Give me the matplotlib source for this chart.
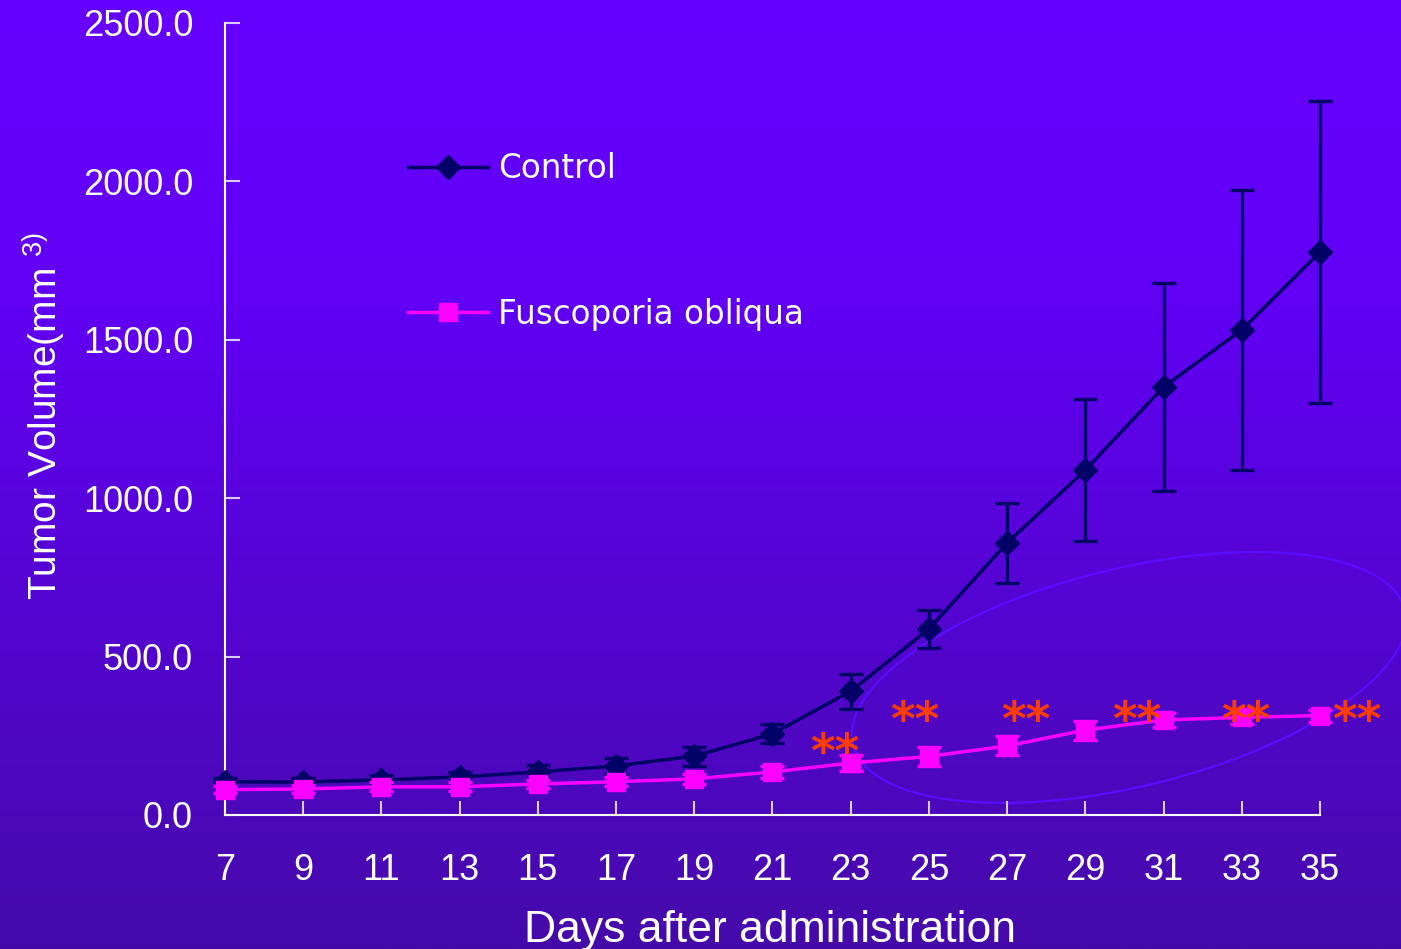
import numpy as np
import matplotlib
matplotlib.use("Agg")
import matplotlib.pyplot as plt
from matplotlib.patches import Ellipse
from matplotlib.lines import Line2D
from matplotlib.ticker import FixedLocator, FormatStrFormatter
from matplotlib import transforms

# ---------------- data ----------------
days = [7, 9, 11, 13, 15, 17, 19, 21, 23, 25, 27, 29, 31, 33, 35]
control = [105, 104, 111, 120, 136, 155, 186, 256, 391, 587, 859, 1089, 1351, 1531, 1777]
control_err = [12, 14, 16, 16, 22, 25, 30, 30, 55, 60, 126, 225, 328, 442, 478]
fusco = [80, 82, 89, 89, 98, 105, 114, 136, 164, 185, 218, 268, 300, 308, 314]
fusco_err = [11, 14, 14, 14, 14, 14, 15, 18, 25, 30, 30, 30, 22, 20, 19]
sig_x = [22.6, 24.64, 27.48, 30.32, 33.11, 35.95]
sig_y = [230, 331, 331, 331, 331, 331]
sig_labels = ["**"] * 6
yticks = [0, 500, 1000, 1500, 2000, 2500]
series_names = ["Control", "Fuscoporia obliqua"]

W, H = 1401, 949
fig = plt.figure(figsize=(W / 100, H / 100), dpi=100)

# background gradient
bg = fig.add_axes([0, 0, 1, 1], zorder=-10)
bg.set_axis_off()
top = np.array([0x66, 0x00, 0xFF]) / 255
mid = np.array([0x62, 0x00, 0xF6]) / 255
bot = np.array([0x45, 0x0A, 0xAA]) / 255
t = np.linspace(0, 1, 400)[:, None]
grad = np.where(t < 0.3, top + (mid - top) * (t / 0.3),
                mid + (bot - mid) * ((t - 0.3) / 0.7))
bg.imshow(grad[:, None, :].repeat(2, axis=1), aspect="auto", extent=[0, 1, 0, 1])

# decorative ellipse
ell = Ellipse((11.29, 2.715), 5.68, 2.18, angle=13.7, fill=False,
              edgecolor="#5a0cff", linewidth=1.6, transform=fig.dpi_scale_trans,
              zorder=-5)
fig.patches.append(ell)

ax = fig.add_axes([225 / W, (H - 815) / H, (1320 - 225) / W, (815 - 23) / H])
ax.set_facecolor("none")
ax.set_xlim(7, 35)
ax.set_ylim(0, 2500)

navy = "#000066"
mag = "#FF00FF"

ax.errorbar(days, control, yerr=control_err, color=navy, lw=2.5, marker="D",
            markersize=12, elinewidth=2.4, capsize=8.5, capthick=2.4,
            clip_on=False, zorder=3)
ax.errorbar(days, fusco, yerr=fusco_err, color=mag, lw=2.5, marker="s",
            markersize=12.5, elinewidth=2.4, capsize=8.5, capthick=2.4,
            clip_on=False, zorder=4)

star_tr = transforms.offset_copy(ax.transData, fig=fig, x=0, y=-12, units="dots")
for x, y, s in zip(sig_x, sig_y, sig_labels):
    ax.text(x, y, s, color="#FF3C00", fontsize=34, fontweight="bold",
            family="DejaVu Sans", ha="center", va="center", transform=star_tr,
            zorder=5)

for sp in ["top", "right"]:
    ax.spines[sp].set_visible(False)
for sp in ["left", "bottom"]:
    ax.spines[sp].set_color("white")
    ax.spines[sp].set_linewidth(1.5)

ax.xaxis.set_major_locator(FixedLocator(days))
ax.yaxis.set_major_locator(FixedLocator(yticks))
ax.yaxis.set_major_formatter(FormatStrFormatter("%.1f"))
ax.tick_params(axis="both", direction="in", color="#d8ccff", width=1.5,
               labelcolor="white", labelsize=26)
ax.tick_params(axis="y", length=11, pad=23)
ax.tick_params(axis="x", length=10, pad=27)
for lab in ax.get_xticklabels() + ax.get_yticklabels():
    lab.set_family("Liberation Sans")

ax.set_xlabel("Days after administration", color="white", fontsize=32,
              family="Liberation Sans")
ax.xaxis.label.set_va("baseline")
ax.xaxis.set_label_coords(0.4977, (815 - 942) / 792)

ax.set_ylabel(r"Tumor Volume(mm $\mathregular{^{3)}}$", color="white", fontsize=28,
              family="Liberation Sans")
ax.yaxis.set_label_coords((68 - 225) / 1095, (815 - 416) / 792)

handles = [Line2D([], [], color=navy, lw=2.5, marker="D", markersize=12),
           Line2D([], [], color=mag, lw=2.5, marker="s", markersize=12.5)]
leg = ax.legend(handles, series_names, loc="upper left",
                bbox_to_anchor=(408 / W, 1 - 152 / H),
                bbox_transform=fig.transFigure, frameon=False, fontsize=23.5,
                handlelength=2.45, handletextpad=0.3, labelspacing=3.45,
                borderpad=0, borderaxespad=0)
for txt in leg.get_texts():
    txt.set_color("white")
    txt.set_family("DejaVu Sans")

fig.savefig("out.png", dpi=100)
